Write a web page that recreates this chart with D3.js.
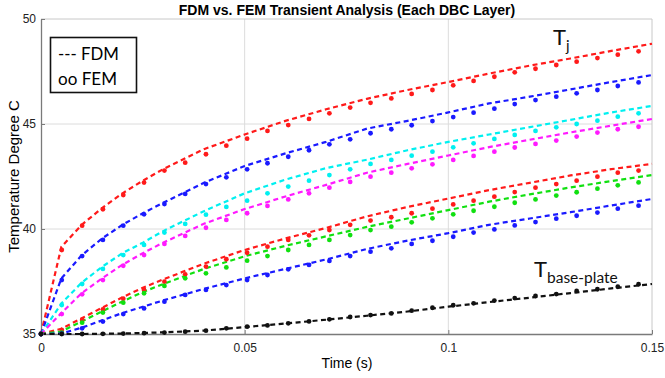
<!DOCTYPE html>
<html>
<head>
<meta charset="utf-8">
<script src="https://cdn.jsdelivr.net/npm/d3@7"></script>
<style>
  body { margin: 0; background: #fff; }
  svg { display: block; font-family: "Liberation Sans", Arial, sans-serif; }
</style>
</head>
<body>
<div id="chart"></div>
<script>
// FDM time steps (s)
const fdmTime = [0, 0.005, 0.01, 0.015, 0.02, 0.025, 0.03, 0.04, 0.05, 0.06, 0.07, 0.08, 0.09, 0.1, 0.11, 0.12, 0.13, 0.14, 0.15];
// FEM sample times (s)
const femTime = [0, 0.0051, 0.0101, 0.0152, 0.0202, 0.0253, 0.0303, 0.0354, 0.0405, 0.0455, 0.0506, 0.0556, 0.0607, 0.0658, 0.0708, 0.0759, 0.0809, 0.086, 0.091, 0.0961, 0.1012, 0.1062, 0.1113, 0.1163, 0.1214, 0.1265, 0.1315, 0.1366, 0.1416, 0.1467];

const layerColors = ["#ff1a1a", "#1a1aff", "#00f0f0", "#ff1aff", "#ff1a1a", "#10e010", "#1a1aff", "#111111"];

// FDM dashed curves, top (Tj) to bottom (base plate)
const fdm1 = [35, 39.15, 40.2, 41.0, 41.7, 42.3, 42.85, 43.8, 44.5, 45.15, 45.7, 46.2, 46.62, 47.0, 47.4, 47.78, 48.12, 48.48, 48.82];
const fdm2 = [35, 37.65, 38.75, 39.55, 40.2, 40.75, 41.25, 42.2, 43.0, 43.6, 44.15, 44.78, 45.15, 45.55, 45.98, 46.3, 46.65, 47.0, 47.33];
const fdm3 = [35, 36.45, 37.45, 38.2, 38.85, 39.35, 39.9, 40.85, 41.7, 42.35, 42.9, 43.3, 43.75, 44.15, 44.5, 44.85, 45.2, 45.55, 45.86];
const fdm4 = [35, 36.0, 36.95, 37.65, 38.3, 38.85, 39.35, 40.25, 40.95, 41.55, 42.1, 42.68, 43.1, 43.5, 43.9, 44.25, 44.6, 44.92, 45.24];
const fdm5 = [35, 35.25, 35.75, 36.25, 36.75, 37.2, 37.6, 38.35, 39.0, 39.55, 40.05, 40.6, 41.05, 41.45, 41.85, 42.2, 42.55, 42.85, 43.1];
const fdm6 = [35, 35.12, 35.6, 36.08, 36.55, 37.0, 37.38, 38.1, 38.7, 39.2, 39.65, 40.1, 40.5, 40.9, 41.3, 41.65, 41.98, 42.28, 42.57];
const fdm7 = [35, 35.02, 35.3, 35.65, 36.0, 36.3, 36.6, 37.15, 37.65, 38.1, 38.55, 39.05, 39.45, 39.8, 40.2, 40.5, 40.8, 41.12, 41.43];
const fdm8 = [35, 35.0, 35.0, 35.01, 35.02, 35.05, 35.08, 35.16, 35.33, 35.5, 35.68, 35.87, 36.07, 36.3, 36.52, 36.73, 36.95, 37.17, 37.38];

// FEM points
const fem1 = [35, 39.0, 40.16, 40.94, 41.62, 42.21, 42.78, 43.16, 43.56, 43.97, 44.3, 44.67, 44.95, 45.24, 45.51, 45.78, 46.01, 46.22, 46.43, 46.62, 46.84, 47.05, 47.25, 47.46, 47.63, 47.81, 47.97, 48.14, 48.3, 48.46];
const fem2 = [35, 37.57, 38.71, 39.48, 40.16, 40.7, 41.19, 41.67, 42.14, 42.46, 42.84, 43.13, 43.44, 43.75, 44.03, 44.27, 44.56, 44.75, 44.94, 45.14, 45.33, 45.54, 45.73, 45.95, 46.14, 46.3, 46.46, 46.62, 46.81, 46.98];
const fem3 = [35, 36.38, 37.38, 38.1, 38.76, 39.24, 39.83, 40.24, 40.68, 41.05, 41.35, 41.7, 42.02, 42.3, 42.57, 42.84, 43.1, 43.29, 43.49, 43.68, 43.89, 44.08, 44.29, 44.48, 44.67, 44.84, 45.0, 45.16, 45.35, 45.51];
const fem4 = [35, 35.95, 36.89, 37.57, 38.25, 38.76, 39.29, 39.67, 40.06, 40.43, 40.75, 41.1, 41.41, 41.7, 41.97, 42.24, 42.49, 42.68, 42.89, 43.08, 43.29, 43.48, 43.68, 43.88, 44.05, 44.21, 44.4, 44.59, 44.75, 44.87];
const fem5 = [35, 35.19, 35.67, 36.17, 36.68, 37.1, 37.49, 37.84, 38.21, 38.56, 38.87, 39.16, 39.48, 39.7, 39.95, 40.2, 40.4, 40.56, 40.75, 40.97, 41.17, 41.35, 41.54, 41.76, 41.97, 42.14, 42.3, 42.49, 42.68, 42.78];
const fem6 = [35, 35.06, 35.54, 36.02, 36.49, 36.94, 37.29, 37.65, 37.89, 38.17, 38.49, 38.71, 39.0, 39.24, 39.48, 39.71, 39.95, 40.11, 40.32, 40.51, 40.7, 40.87, 41.06, 41.25, 41.41, 41.59, 41.75, 41.92, 42.08, 42.22];
const fem7 = [35, 35.02, 35.27, 35.59, 35.95, 36.22, 36.54, 36.86, 37.1, 37.33, 37.57, 37.81, 38.08, 38.29, 38.48, 38.71, 38.92, 39.08, 39.29, 39.44, 39.63, 39.83, 39.98, 40.17, 40.33, 40.49, 40.63, 40.78, 40.97, 41.11];
const fem8 = [35, 35.0, 35.0, 35.01, 35.02, 35.04, 35.07, 35.11, 35.16, 35.27, 35.35, 35.41, 35.51, 35.6, 35.7, 35.81, 35.9, 35.98, 36.11, 36.25, 36.37, 36.46, 36.59, 36.71, 36.81, 36.9, 37.05, 37.13, 37.25, 37.37];

const xTicks = [0, 0.05, 0.1, 0.15];
const yTicks = [35, 40, 45, 50];

const fdmSeries = [fdm1, fdm2, fdm3, fdm4, fdm5, fdm6, fdm7, fdm8];
const femSeries = [fem1, fem2, fem3, fem4, fem5, fem6, fem7, fem8];

const width = 665, height = 378;
const margin = {top: 19, right: 13, bottom: 44, left: 41};

const svg = d3.select("#chart").append("svg")
  .attr("width", width)
  .attr("height", height);

const x = d3.scaleLinear().domain([0, 0.15]).range([margin.left, width - margin.right]);
const y = d3.scaleLinear().domain([35, 50]).range([height - margin.bottom, margin.top]);

// grid
svg.append("g")
  .attr("stroke", "#dcdcdc")
  .attr("stroke-width", 1)
  .selectAll("line")
  .data(xTicks.slice(1, -1))
  .join("line")
  .attr("x1", d => x(d)).attr("x2", d => x(d))
  .attr("y1", y(35)).attr("y2", y(50));

svg.append("g")
  .attr("stroke", "#dcdcdc")
  .attr("stroke-width", 1)
  .selectAll("line")
  .data(yTicks.slice(1, -1))
  .join("line")
  .attr("x1", x(0)).attr("x2", x(0.15))
  .attr("y1", d => y(d)).attr("y2", d => y(d));

// box top / right
svg.append("path")
  .attr("d", `M${x(0)},${y(50)}H${x(0.15)}V${y(35)}`)
  .attr("fill", "none")
  .attr("stroke", "#c8c8c8");

// axes
const xAxis = svg.append("g")
  .attr("transform", `translate(0,${y(35)})`)
  .call(d3.axisBottom(x).tickValues(xTicks).tickFormat(d => String(+d.toFixed(2))).tickSizeInner(-4).tickSizeOuter(0).tickPadding(9));

const yAxis = svg.append("g")
  .attr("transform", `translate(${x(0)},0)`)
  .call(d3.axisLeft(y).tickValues(yTicks).tickSizeInner(-4).tickSizeOuter(0).tickPadding(5));

[xAxis, yAxis].forEach(a => {
  a.select(".domain").attr("stroke", "#7a7a7a").attr("stroke-width", 1.3);
  a.selectAll(".tick line").attr("stroke", "#7a7a7a");
  a.selectAll(".tick text").attr("fill", "#222").style("font-size", "12px").style("font-family", "Liberation Sans, Arial, sans-serif");
});

// FDM lines
const line = d3.line()
  .x((d, i) => x(fdmTime[i]))
  .y(d => y(d));

svg.append("g")
  .attr("fill", "none")
  .attr("stroke-width", 2.2)
  .attr("stroke-dasharray", "5,3.5")
  .selectAll("path")
  .data(fdmSeries)
  .join("path")
  .attr("stroke", (d, i) => layerColors[i])
  .attr("d", line);

// FEM markers
femSeries.forEach((s, k) => {
  svg.append("g")
    .attr("fill", layerColors[k])
    .selectAll("circle")
    .data(s)
    .join("circle")
    .attr("cx", (d, i) => x(femTime[i]))
    .attr("cy", d => y(d))
    .attr("r", 2.4);
});

// title + axis labels
svg.append("text")
  .attr("x", 347).attr("y", 15)
  .attr("text-anchor", "middle")
  .style("font-size", "14px")
  .style("font-weight", "bold")
  .text("FDM vs. FEM Transient Analysis (Each DBC Layer)");

svg.append("text")
  .attr("x", 347).attr("y", 368)
  .attr("text-anchor", "middle")
  .style("font-size", "14px")
  .text("Time (s)");

svg.append("text")
  .attr("transform", `translate(19,${(y(35) + y(50)) / 2}) rotate(-90)`)
  .attr("text-anchor", "middle")
  .style("font-size", "15px")
  .text("Temperature Degree C");

// legend
const legend = svg.append("g").style("font-family", "Lato, 'Open Sans', sans-serif");
legend.append("rect")
  .attr("x", 50.5).attr("y", 37.5)
  .attr("width", 86).attr("height", 55)
  .attr("fill", "#fff")
  .attr("stroke", "#111")
  .attr("stroke-width", 1.6);
legend.append("text").attr("x", 58).attr("y", 60).style("font-size", "17px")
  .attr("textLength", 61).attr("lengthAdjust", "spacingAndGlyphs").text("--- FDM");
legend.append("text").attr("x", 58).attr("y", 85).style("font-size", "17px")
  .attr("textLength", 59).attr("lengthAdjust", "spacingAndGlyphs").text("oo FEM");

// annotations
const tj = svg.append("text")
  .attr("x", 553).attr("y", 45)
  .style("font-family", "Lato, 'Open Sans', sans-serif")
  .style("font-size", "22px")
  .attr("fill", "#111");
tj.append("tspan").text("T");
tj.append("tspan").attr("dy", 6).style("font-size", "15px").text("j");

const tb = svg.append("text")
  .attr("x", 534).attr("y", 277)
  .style("font-family", "Lato, 'Open Sans', sans-serif")
  .style("font-size", "22px")
  .attr("fill", "#111");
tb.append("tspan").text("T");
tb.append("tspan").attr("dy", 6).style("font-size", "15.5px").text("base-plate");
</script>
</body>
</html>
